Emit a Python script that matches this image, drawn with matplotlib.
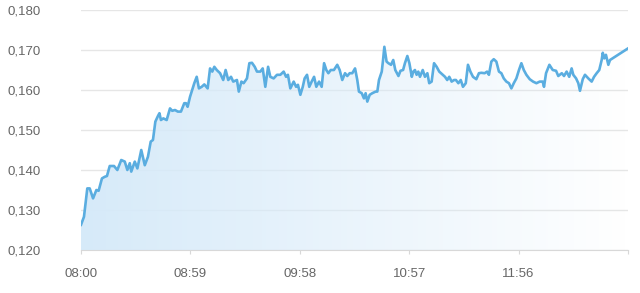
import numpy as np
import matplotlib
matplotlib.use("Agg")
import matplotlib.pyplot as plt

# minutes after 08:00 and the value at that time
minutes = [0, 1.6, 3.4, 4.7, 6.5, 8.3, 9.5, 11.3, 12.8, 14.0, 15.5, 17.8, 19.6, 21.7, 23.6,
           25.0, 26.3, 27.1, 29.0, 30.4, 32.5, 34.4, 36.1, 37.6, 38.8, 40.1, 41.5, 42.3, 43.1,
           44.4, 46.2, 48.0, 49.2, 50.7, 52.2, 53.9, 55.7, 56.6, 57.5, 58.8, 59.7, 61.1, 62.4,
           63.6, 65.1, 66.5, 68.3, 69.6, 70.8, 71.9, 73.2, 75.0, 76.7, 78.0, 79.4, 80.9, 82.1,
           84.1, 85.1, 86.5, 87.7, 89.5, 90.8, 92.2, 93.7, 94.9, 96.7, 98.0, 99.4, 100.9, 102.1,
           103.9, 105.7, 107.5, 109.3, 110.6, 111.6, 112.9, 114.7, 116.0, 117.0, 118.3, 119.6,
           120.6, 121.9, 123.1, 124.4, 125.7, 126.9, 128.4, 129.8, 131.1, 132.3, 133.4, 134.7,
           136.4, 138.2, 139.5, 140.9, 142.4, 143.6, 144.9, 146.3, 147.8, 149.0, 149.9, 151.4,
           152.6, 153.5, 154.4, 155.7, 157.1, 158.9, 159.8, 160.7, 162.2, 162.9, 163.6, 164.8,
           165.8, 167.2, 168.4, 169.5, 171.2, 172.3, 173.7, 174.7, 176.0, 177.1, 178.4, 179.2,
           180.1, 181.0, 181.9, 182.8, 184.3, 185.5, 186.8, 187.8, 189.1, 190.4, 191.8, 193.2,
           195.1, 196.3, 197.5, 198.6, 199.9, 201.2, 202.2, 203.5, 204.8, 206.0, 207.5, 208.7,
           210.0, 211.4, 213.2, 214.6, 215.9, 217.7, 219.0, 220.0, 221.3, 222.6, 224.0, 225.4,
           226.7, 228.0, 229.4, 230.8, 232.1, 233.4, 234.8, 236.2, 237.5, 238.8, 240.2, 242.0,
           243.8, 245.6, 247.4, 249.0, 249.7, 250.8, 252.6, 254.4, 256.2, 257.4, 259.3, 260.5,
           261.9, 263.3, 264.6, 265.5, 267.0, 268.2, 269.1, 270.6, 271.8, 273.6, 275.4, 276.7,
           278.1, 279.5, 280.8, 281.4, 282.2, 283.1, 284.4, 285.3, 295.0]
values = [0.1263, 0.1283, 0.1354, 0.1354, 0.1329, 0.1350, 0.1348, 0.1379, 0.1383, 0.1385,
          0.1410, 0.1410, 0.1400, 0.1425, 0.1421, 0.1400, 0.1417, 0.1396, 0.1421, 0.1404,
          0.1450, 0.1412, 0.1433, 0.1471, 0.1475, 0.1521, 0.1535, 0.1542, 0.1525, 0.1529,
          0.1525, 0.1554, 0.1548, 0.1550, 0.1546, 0.1546, 0.1567, 0.1567, 0.1558, 0.1583,
          0.1596, 0.1617, 0.1633, 0.1604, 0.1608, 0.1614, 0.1604, 0.1654, 0.1646, 0.1658,
          0.1650, 0.1642, 0.1625, 0.1650, 0.1625, 0.1633, 0.1621, 0.1625, 0.1596, 0.1621,
          0.1617, 0.1629, 0.1667, 0.1668, 0.1658, 0.1646, 0.1646, 0.1654, 0.1608, 0.1658,
          0.1633, 0.1629, 0.1638, 0.1638, 0.1646, 0.1633, 0.1638, 0.1604, 0.1621, 0.1608,
          0.1613, 0.1588, 0.1608, 0.1629, 0.1638, 0.1608, 0.1621, 0.1633, 0.1608, 0.1621,
          0.1608, 0.1667, 0.1650, 0.1642, 0.1650, 0.1650, 0.1663, 0.1650, 0.1625, 0.1642,
          0.1635, 0.1642, 0.1642, 0.1654, 0.1625, 0.1596, 0.1592, 0.1579, 0.1592, 0.1571,
          0.1588, 0.1592, 0.1596, 0.1596, 0.1625, 0.1646, 0.1675, 0.1708, 0.1671, 0.1667,
          0.1663, 0.1675, 0.1650, 0.1635, 0.1648, 0.1650, 0.1667, 0.1685, 0.1667, 0.1633,
          0.1646, 0.1650, 0.1638, 0.1646, 0.1633, 0.1650, 0.1633, 0.1642, 0.1617, 0.1621,
          0.1667, 0.1658, 0.1646, 0.1638, 0.1633, 0.1625, 0.1633, 0.1621, 0.1625, 0.1625,
          0.1617, 0.1625, 0.1608, 0.1617, 0.1663, 0.1646, 0.1633, 0.1627, 0.1642, 0.1643,
          0.1642, 0.1646, 0.1638, 0.1671, 0.1677, 0.1671, 0.1646, 0.1642, 0.1629, 0.1621,
          0.1617, 0.1604, 0.1617, 0.1629, 0.1650, 0.1667, 0.1650, 0.1638, 0.1627, 0.1621,
          0.1617, 0.1621, 0.1621, 0.1608, 0.1642, 0.1663, 0.1650, 0.1648, 0.1635, 0.1642,
          0.1635, 0.1646, 0.1633, 0.1654, 0.1638, 0.1629, 0.1617, 0.1598, 0.1627, 0.1638,
          0.1629, 0.1621, 0.1633, 0.1642, 0.1650, 0.1675, 0.1693, 0.1679, 0.1688, 0.1663,
          0.1675, 0.1704]

x_ticks = [0, 59, 118, 177, 236, 295]
x_labels = ["08:00", "08:59", "09:58", "10:57", "11:56", ""]
y_ticks = [0.120, 0.130, 0.140, 0.150, 0.160, 0.170, 0.180]
y_labels = ["0,120", "0,130", "0,140", "0,150", "0,160", "0,170", "0,180"]

plt.rcParams['font.family'] = ['Liberation Sans', 'DejaVu Sans']

fig = plt.figure(figsize=(6.4, 2.93), dpi=100)
ax = fig.add_axes([81 / 640, 43 / 293, 547 / 640, 240 / 293])

x = np.array(minutes)
y = np.array(values)
ymin, ymax = 0.120, 0.180

# gradient fill under the line (light blue -> white)
poly = ax.fill_between(x, y, ymin, color='none', lw=0)
grad = np.zeros((2, 256, 4))
grad[..., 0] = 0.84
grad[..., 1] = 0.92
grad[..., 2] = 0.98
grad[..., 3] = np.linspace(1.0, 0.0, 256)[None, :]
img = ax.imshow(grad, extent=[0, 295, ymin, ymax], aspect='auto', origin='lower', zorder=1)
img.set_clip_path(poly.get_paths()[0], transform=ax.transData)

ax.plot(x, y, color='#5aade0', lw=1.9, zorder=3, solid_joinstyle='round')

ax.set_xlim(0, 295)
ax.set_ylim(ymin, ymax)
ax.set_xticks(x_ticks)
ax.set_xticklabels(x_labels)
ax.set_yticks(y_ticks)
ax.set_yticklabels(y_labels)

ax.grid(axis='y', color='#e6e6e6', lw=1)
ax.set_axisbelow(True)
for s in ['top', 'right', 'left']:
    ax.spines[s].set_visible(False)
ax.spines['bottom'].set_color('#d8d8d8')
ax.tick_params(axis='y', length=0, pad=29, labelsize=9.5, labelcolor='#666666')
ax.tick_params(axis='x', length=3, color='#d8d8d8', pad=10, labelsize=9.5, labelcolor='#666666')

fig.savefig('out.png', dpi=100)
